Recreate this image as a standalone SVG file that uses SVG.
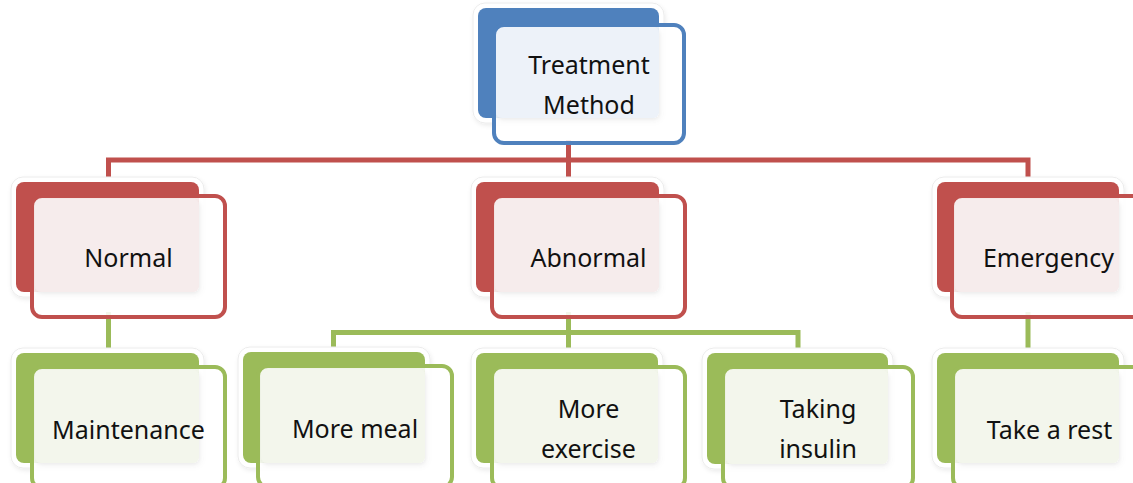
<svg xmlns="http://www.w3.org/2000/svg" width="1133" height="483" viewBox="0 0 1133 483">
  <defs>
    <style>
      .glow { fill: #ffffff; stroke: #ececec; stroke-width: 1; }
      .frontfill { fill: #ffffff; fill-opacity: 0.88; }
      .lbl { font-family: "Noto Sans", "Open Sans", sans-serif; font-size: 25px; fill: #111111; text-anchor: middle; }
      .blue .back { fill: #4F81BD; }
      .blue .light { fill: #EDF2F9; }
      .blue .frontline { fill: none; stroke: #4F81BD; stroke-width: 4; }
      .red .back { fill: #C0504D; }
      .red .light { fill: #F6ECEC; }
      .red .frontline { fill: none; stroke: #C0504D; stroke-width: 4; }
      .green .back { fill: #9BBB59; }
      .green .light { fill: #F3F6EC; }
      .green .frontline { fill: none; stroke: #9BBB59; stroke-width: 4; }
      .conn-red { fill: none; stroke: #C0504D; stroke-width: 5; }
      .conn-green { fill: none; stroke: #9BBB59; stroke-width: 5; }
    </style>
    <filter id="sh" x="-10%" y="-10%" width="125%" height="130%">
      <feDropShadow dx="1" dy="2" stdDeviation="2" flood-color="#000000" flood-opacity="0.08"/>
    </filter>
  </defs>
  <rect width="1133" height="483" fill="#ffffff"/>

  <g id="connectors">
    <path class="conn-red" d="M568.5 140 V160 M108.5 185 V160 H1028 V185 M568.5 160 V185"/>
    <path class="conn-green" d="M108.5 312 V356"/>
    <path class="conn-green" d="M568.5 312 V332.5 M333.5 356 V332.5 H798 V356 M568.5 332.5 V356"/>
    <path class="conn-green" d="M1028 312 V356"/>
  </g>

  <g id="node-treatment" class="blue">
    <rect class="glow" x="473" y="3" width="191" height="120" rx="12" filter="url(#sh)"/>
    <rect class="back" x="478" y="8" width="181" height="110" rx="8"/>
    <rect class="frontfill" x="494" y="25" width="190" height="118" rx="10"/>
    <rect class="light" x="496" y="27" width="163" height="91" rx="6" filter="url(#sh)"/>
    <rect class="frontline" x="494" y="25" width="190" height="118" rx="10"/>
    <text class="lbl" x="589" y="74">Treatment</text>
    <text class="lbl" x="589" y="114">Method</text>
  </g>

  <g id="node-normal" class="red">
    <rect class="glow" x="11" y="177" width="193" height="120" rx="12" filter="url(#sh)"/>
    <rect class="back" x="16" y="182" width="183" height="110" rx="8"/>
    <rect class="frontfill" x="32" y="196" width="193" height="121" rx="10"/>
    <rect class="light" x="35" y="199" width="164" height="93" rx="6" filter="url(#sh)"/>
    <rect class="frontline" x="32" y="196" width="193" height="121" rx="10"/>
    <text class="lbl" x="128.5" y="267">Normal</text>
  </g>

  <g id="node-abnormal" class="red">
    <rect class="glow" x="471" y="177" width="193" height="120" rx="12" filter="url(#sh)"/>
    <rect class="back" x="476" y="182" width="183" height="110" rx="8"/>
    <rect class="frontfill" x="492" y="196" width="193" height="121" rx="10"/>
    <rect class="light" x="495" y="199" width="164" height="93" rx="6" filter="url(#sh)"/>
    <rect class="frontline" x="492" y="196" width="193" height="121" rx="10"/>
    <text class="lbl" x="588.5" y="267">Abnormal</text>
  </g>

  <g id="node-emergency" class="red">
    <rect class="glow" x="932" y="177" width="192" height="120" rx="12" filter="url(#sh)"/>
    <rect class="back" x="937" y="182" width="182" height="110" rx="8"/>
    <rect class="frontfill" x="952" y="196" width="193" height="121" rx="10"/>
    <rect class="light" x="955" y="199" width="164" height="93" rx="6" filter="url(#sh)"/>
    <rect class="frontline" x="952" y="196" width="193" height="121" rx="10"/>
    <text class="lbl" x="1048.5" y="267">Emergency</text>
  </g>

  <g id="node-maintenance" class="green">
    <rect class="glow" x="11" y="348" width="193" height="120" rx="12" filter="url(#sh)"/>
    <rect class="back" x="16" y="353" width="183" height="110" rx="8"/>
    <rect class="frontfill" x="32" y="367" width="193" height="121" rx="10"/>
    <rect class="light" x="35" y="370" width="164" height="93" rx="6" filter="url(#sh)"/>
    <rect class="frontline" x="32" y="367" width="193" height="121" rx="10"/>
    <text class="lbl" x="128.5" y="439">Maintenance</text>
  </g>

  <g id="node-more-meal" class="green">
    <rect class="glow" x="238" y="347" width="192" height="121" rx="12" filter="url(#sh)"/>
    <rect class="back" x="243" y="352" width="182" height="111" rx="8"/>
    <rect class="frontfill" x="258" y="366" width="194" height="121" rx="10"/>
    <rect class="light" x="261" y="369" width="164" height="94" rx="6" filter="url(#sh)"/>
    <rect class="frontline" x="258" y="366" width="194" height="121" rx="10"/>
    <text class="lbl" x="355" y="438">More meal</text>
  </g>

  <g id="node-more-exercise" class="green">
    <rect class="glow" x="471" y="348" width="192" height="120" rx="12" filter="url(#sh)"/>
    <rect class="back" x="476" y="353" width="182" height="110" rx="8"/>
    <rect class="frontfill" x="492" y="367" width="193" height="121" rx="10"/>
    <rect class="light" x="495" y="370" width="163" height="93" rx="6" filter="url(#sh)"/>
    <rect class="frontline" x="492" y="367" width="193" height="121" rx="10"/>
    <text class="lbl" x="588.5" y="418">More</text>
    <text class="lbl" x="588.5" y="458">exercise</text>
  </g>

  <g id="node-taking-insulin" class="green">
    <rect class="glow" x="702" y="348" width="191" height="121" rx="12" filter="url(#sh)"/>
    <rect class="back" x="707" y="353" width="181" height="111" rx="8"/>
    <rect class="frontfill" x="723" y="367" width="190" height="121" rx="10"/>
    <rect class="light" x="726" y="370" width="162" height="94" rx="6" filter="url(#sh)"/>
    <rect class="frontline" x="723" y="367" width="190" height="121" rx="10"/>
    <text class="lbl" x="818" y="418">Taking</text>
    <text class="lbl" x="818" y="458">insulin</text>
  </g>

  <g id="node-take-a-rest" class="green">
    <rect class="glow" x="932" y="348" width="192" height="120" rx="12" filter="url(#sh)"/>
    <rect class="back" x="937" y="353" width="182" height="110" rx="8"/>
    <rect class="frontfill" x="953" y="367" width="193" height="121" rx="10"/>
    <rect class="light" x="956" y="370" width="163" height="93" rx="6" filter="url(#sh)"/>
    <rect class="frontline" x="953" y="367" width="193" height="121" rx="10"/>
    <text class="lbl" x="1049.5" y="439">Take a rest</text>
  </g>
</svg>
